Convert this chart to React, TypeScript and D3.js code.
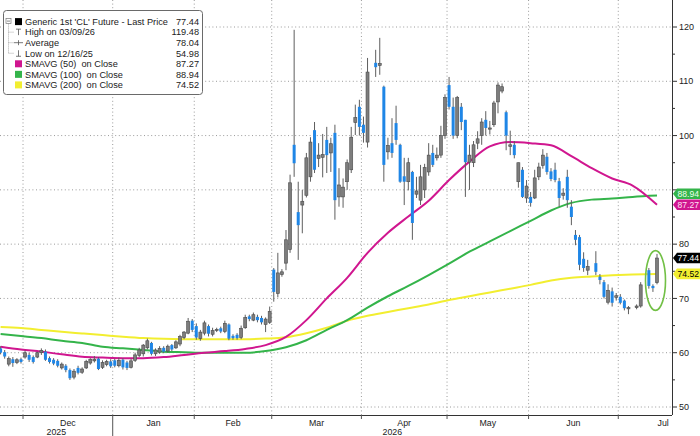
import * as d3 from "d3";

// open, high, low, close (null = no bar drawn)
type Candle = [number, number, number, number] | null;

const nov: Candle[] = [
  [60.8, 61.2, 59.7, 60.0], [60.1, 60.5, 58.9, 59.3], [57.9, 59.3, 57.5, 58.9],
  [58.8, 59.2, 57.4, 58.1], [58.2, 59.0, 57.9, 58.7], [58.8, 59.1, 58.0, 58.3],
];
const dec: Candle[] = [
  [59.2, 60.4, 58.9, 60.0], [59.6, 60.0, 58.3, 58.7], [59.2, 59.5, 58.0, 58.3],
  [59.2, 60.2, 59.0, 60.0], [60.0, 60.8, 59.6, 60.4], [60.2, 60.6, 58.5, 58.7],
  [59.0, 59.3, 58.0, 58.3], [58.7, 59.0, 57.7, 58.0], [58.5, 58.8, 57.3, 57.6],
  [57.2, 58.2, 56.9, 57.9], [57.6, 57.9, 56.4, 56.8], [56.8, 57.1, 54.98, 55.3],
  [55.5, 57.0, 55.1, 56.6], [57.2, 57.6, 56.0, 56.3], [56.4, 57.3, 56.1, 57.0],
  [57.2, 58.7, 57.0, 58.4], [58.1, 59.0, 57.8, 58.8], [58.5, 59.4, 58.2, 58.8],
  [58.9, 59.2, 56.8, 57.0], [57.3, 58.6, 57.0, 58.2], [57.8, 58.7, 57.5, 58.4],
  [58.4, 58.8, 57.2, 57.5],
];
const jan: Candle[] = [
  [58.6, 58.9, 57.3, 57.6], [57.6, 59.1, 57.3, 58.6], [58.7, 59.0, 56.9, 57.3],
  [58.2, 58.5, 56.8, 57.2], [57.3, 58.9, 57.1, 58.5], [58.6, 60.0, 58.3, 59.6],
  [59.5, 60.9, 59.2, 60.5], [59.8, 61.6, 59.3, 61.4], [60.9, 62.6, 60.6, 62.2],
  [61.8, 62.0, 59.5, 59.8], [59.8, 60.8, 59.4, 60.5], [60.1, 61.2, 59.8, 60.8],
  [60.9, 61.2, 59.9, 60.2], [60.3, 61.5, 60.0, 61.2], [61.4, 61.6, 60.3, 60.6],
  [60.9, 62.3, 60.7, 62.0], [61.6, 63.3, 61.2, 63.0], [62.8, 64.0, 62.5, 63.8],
  [63.6, 66.4, 63.4, 65.8], [65.9, 66.2, 63.8, 64.2],
];
const feb: Candle[] = [
  [64.9, 65.4, 62.4, 62.8], [62.6, 64.2, 62.2, 63.8], [63.6, 65.9, 63.2, 65.5],
  [64.9, 65.2, 63.0, 63.5], [63.4, 64.6, 63.0, 64.1], [64.2, 64.6, 63.8, 64.3],
  [64.5, 64.8, 63.6, 63.9], [63.9, 65.9, 63.6, 65.4], [65.2, 65.4, 62.3, 62.6],
  [63.1, 63.4, 62.4, 62.7], [63.3, 63.6, 62.4, 62.7], [62.8, 65.0, 62.5, 64.5],
  [64.6, 67.0, 64.4, 66.5], [66.7, 67.0, 65.8, 66.2], [66.0, 67.4, 65.8, 67.0],
  [66.6, 67.0, 65.6, 66.0], [66.4, 66.8, 65.2, 65.6], [65.2, 66.5, 63.8, 66.2],
  [65.6, 68.5, 65.3, 67.6],
];
const mar: Candle[] = [
  [75.3, 75.6, 69.4, 71.2], [70.9, 78.4, 70.2, 74.7], [74.4, 75.4, 74.0, 74.9],
  [76.5, 82.6, 75.2, 80.8], [79.0, 92.8, 78.4, 91.3], [98.3, 119.48, 92.4, 94.9],
  [85.9, 91.5, 77.1, 83.5], [87.2, 90.0, 82.0, 87.9], [89.0, 96.8, 88.6, 95.9],
  [92.4, 99.7, 91.5, 98.8], [101.0, 102.5, 93.1, 93.7], [95.8, 98.6, 94.2, 96.4],
  [96.0, 100.3, 92.3, 96.5], [99.2, 101.6, 93.1, 96.4], [96.8, 99.6, 93.3, 98.5],
  [100.5, 102.0, 84.5, 88.1], [88.7, 94.0, 86.9, 90.9], [88.7, 92.1, 86.7, 90.5],
  [91.5, 95.6, 90.0, 95.0], [93.7, 101.6, 93.1, 99.7], [102.4, 105.7, 100.1, 103.3],
  [105.3, 106.6, 100.0, 101.6],
];
const apr: Candle[] = [
  [102.0, 103.5, 98.7, 100.5], [98.8, 114.3, 97.8, 111.7], null,
  [113.4, 115.8, 110.8, 112.6], [112.9, 118.0, 111.2, 113.3], [109.0, 109.2, 91.5, 94.6],
  [97.0, 99.6, 95.6, 98.2], [98.6, 103.2, 95.9, 96.8], [102.3, 105.5, 98.3, 99.2],
  [98.3, 98.5, 91.3, 91.5], [92.5, 95.9, 87.2, 91.5], [91.5, 95.9, 89.9, 95.0],
  [93.3, 93.5, 80.8, 83.9], [89.2, 92.4, 88.5, 89.8], [88.1, 94.6, 87.2, 92.4],
  [90.0, 94.8, 88.5, 94.1], [93.3, 98.6, 92.6, 96.4], [96.8, 98.3, 94.2, 94.6],
  [95.9, 97.8, 95.4, 96.4], [96.4, 101.8, 95.9, 100.0], [100.0, 107.6, 99.4, 107.0],
];
const may: Candle[] = [
  [109.3, 110.8, 104.8, 105.3], [105.3, 107.0, 99.4, 100.0], [100.0, 107.3, 99.5, 107.0],
  [105.3, 106.0, 101.0, 102.5], [102.9, 102.9, 88.7, 95.1], [95.1, 98.3, 90.0, 96.4],
  [95.0, 99.0, 94.2, 98.3], [98.6, 100.8, 97.5, 99.4], [100.0, 103.2, 98.3, 102.5],
  [102.9, 104.5, 100.0, 101.4], [101.2, 102.7, 100.2, 101.4], [102.0, 106.4, 101.6, 106.0],
  [106.2, 109.8, 104.1, 109.3], [108.2, 109.6, 107.8, 109.0], [104.3, 104.6, 97.3, 100.0],
  [98.0, 100.9, 96.4, 98.3], [98.3, 99.0, 95.8, 96.4], [91.5, 95.0, 90.4, 95.0],
  [93.7, 94.2, 88.5, 88.7], [88.5, 91.8, 87.6, 90.7],
];
const jun: Candle[] = [
  [88.7, 89.6, 86.9, 87.6], [88.5, 93.7, 88.3, 92.2], [92.4, 95.0, 91.8, 94.2],
  [94.5, 97.5, 93.9, 96.4], [96.1, 96.8, 92.8, 93.3], [93.4, 94.0, 91.6, 92.0],
  [93.7, 95.0, 91.4, 91.8], [91.6, 92.2, 86.9, 88.5], [89.0, 90.3, 88.2, 89.4],
  [92.4, 93.7, 86.7, 88.1], [86.9, 88.1, 83.5, 85.0], [81.7, 82.6, 79.8, 80.8],
  [81.3, 81.7, 75.2, 76.2], [77.3, 78.5, 74.9, 75.6], [75.2, 77.1, 74.3, 75.9],
  null, [76.5, 78.7, 74.3, 74.9], [74.0, 74.5, 72.6, 73.4],
  [73.0, 73.4, 70.0, 70.3], [69.3, 72.6, 68.9, 71.5], [71.3, 72.0, 68.5, 69.2],
  [70.2, 71.0, 69.6, 70.5],
];
const jul: Candle[] = [
  [70.3, 70.8, 68.9, 69.2], [69.6, 69.8, 67.8, 68.2], [68.1, 68.6, 67.1, 68.3],
  null, [68.3, 68.9, 68.0, 68.6], [68.6, 73.0, 68.3, 72.5],
  null, [75.2, 75.6, 71.8, 72.3], [72.3, 72.6, 71.2, 71.9],
  [72.9, 78.2, 72.6, 77.44],
];

const months = ["Dec", "Jan", "Feb", "Mar", "Apr", "May", "Jun", "Jul"];
const monthBars = [dec, jan, feb, mar, apr, may, jun, jul];
const julTradingDays = 22;
const years = ["2025", "2026"];

// moving averages at every 5th bar
const smaIdx = [0, 5, 10, 15, 20, 25, 30, 35, 40, 45, 50, 55, 60, 65, 70, 75, 80, 85, 90, 95, 100, 105, 110, 115, 120, 125, 130, 135, 140, 145, 150, 155, 161];
const sma50 = [61.1, 60.6, 60.2, 59.7, 59.25, 59.1, 59.0, 59.0, 59.2, 59.6, 60.0, 60.3, 60.7, 61.4, 62.9, 66.0, 70.0, 73.8, 78.4, 82.1, 85.1, 88.0, 91.8, 95.2, 98.0, 98.8, 98.6, 98.2, 96.2, 94.0, 92.1, 90.8, 87.27];
const sma100 = [63.45, 63.1, 62.7, 62.2, 61.8, 61.1, 60.8, 60.5, 60.2, 60.1, 60.0, 60.0, 60.0, 60.3, 61.0, 62.3, 64.2, 66.0, 68.3, 70.4, 72.3, 74.3, 76.4, 78.6, 80.5, 82.4, 84.3, 86.2, 87.6, 88.2, 88.4, 88.7, 88.94];
const sma200 = [64.75, 64.55, 64.2, 63.85, 63.55, 63.25, 62.95, 62.7, 62.55, 62.5, 62.5, 62.5, 62.5, 62.6, 62.85, 63.6, 64.6, 65.9, 66.8, 67.5, 68.2, 68.9, 69.7, 70.4, 71.1, 71.8, 72.5, 73.3, 73.8, 74.05, 74.25, 74.4, 74.52];

const yTicks = [50, 60, 70, 80, 90, 100, 110, 120];
const yMinor = [55, 65, 75, 85, 95, 105, 115];

const legendLabels = [
  "Generic 1st 'CL' Future - Last Price",
  "High on 03/09/26",
  "Average",
  "Low on 12/16/25",
  "SMAVG (50)  on Close",
  "SMAVG (100)  on Close",
  "SMAVG (200)  on Close",
];
const legendValues = [77.44, 119.48, 78.04, 54.98, 87.27, 88.94, 74.52];

const MAGENTA = "#d0168f";
const GREEN = "#34b44a";
const YELLOW = "#f2ee30";
const BLUE = "#1f86e6";
const FONT = "'Liberation Sans', Arial, sans-serif";

const App = () => {
  const width = 700;
  const height = 436;
  const plotRight = 672;
  const plotBottom = 415;

  const candles: Candle[] = [nov, ...monthBars].flat();
  const x = d3.scaleLinear().domain([0, candles.length - 1]).range([0.6, 657]);
  const y = d3.scaleLinear().domain([50, 120]).range([407, 27]);

  // month boundaries
  const starts: number[] = [];
  let acc = nov.length;
  monthBars.forEach((m) => {
    starts.push(acc);
    acc += m.length;
  });
  const tickX = starts.map((s) => x(s - 0.5));
  const labelX = starts.map((s, i) => {
    const next = i < starts.length - 1 ? starts[i + 1] : s + julTradingDays;
    return x((s + next) / 2 - 0.5);
  });
  const yearSplit = tickX[1];

  const smaLine = (vals: number[]) =>
    d3
      .line<number>()
      .x((_, i) => x(smaIdx[i]))
      .y((v) => y(v))
      .curve(d3.curveMonotoneX)(vals);

  // price tags on the right axis, nudged apart when they overlap
  const tags = [
    { v: legendValues[5], bg: GREEN, fg: "#eaffea" },
    { v: legendValues[4], bg: MAGENTA, fg: "#ffe0f4" },
    { v: legendValues[0], bg: "#000000", fg: "#ffffff" },
    { v: legendValues[6], bg: YELLOW, fg: "#000000" },
  ]
    .map((t) => ({ ...t, ty: y(t.v) }))
    .sort((a, b) => a.ty - b.ty);
  for (let i = tags.length - 2; i >= 0; i--) {
    const gap = tags[i + 1].ty - tags[i].ty;
    if (gap < 11) tags[i].ty -= 11 - gap;
  }
  // axis labels hidden under a tag
  const shownTicks = yTicks.filter((t) => tags.every((g) => Math.abs(g.ty - y(t)) > 9));

  const last = candles.length - 1;
  const bodyW = 3;

  const rowY = (i: number) => 21.6 + i * 10.55;

  return (
    <div style={{ position: "absolute", left: 0, top: 0 }}>
      <svg width={width} height={height} style={{ display: "block", background: "#fff" }}>
        <defs>
          <clipPath id="plot">
            <rect x={0} y={0} width={plotRight} height={plotBottom} />
          </clipPath>
        </defs>

        {/* grid */}
        {yTicks.map((t) => (
          <line key={"h" + t} x1={0} x2={plotRight} y1={y(t)} y2={y(t)}
            stroke="#9a9a9a" strokeWidth={1} strokeDasharray="1 2.6" />
        ))}
        {tickX.map((tx, i) => (
          <line key={"v" + i} x1={tx} x2={tx} y1={0} y2={plotBottom}
            stroke="#9a9a9a" strokeWidth={1} strokeDasharray="1 2.6" />
        ))}

        <g clipPath="url(#plot)">
          {/* moving averages */}
          <path d={smaLine(sma200) ?? ""} fill="none" stroke={YELLOW} strokeWidth={2} />
          <path d={smaLine(sma100) ?? ""} fill="none" stroke={GREEN} strokeWidth={2} />
          <path d={smaLine(sma50) ?? ""} fill="none" stroke={MAGENTA} strokeWidth={2} />

          {/* candles */}
          {candles.map((c, i) => {
            if (!c) return null;
            const [o, h, l, cl] = c;
            const cx = x(i);
            const down = cl < o;
            const top = y(Math.max(o, cl));
            const bh = Math.max(1.2, y(Math.min(o, cl)) - top);
            return (
              <g key={i}>
                <line x1={cx} x2={cx} y1={y(h)} y2={y(l)} stroke="#5e5e5e" strokeWidth={1} />
                <rect x={cx - bodyW / 2} y={top} width={bodyW} height={bh}
                  fill={down ? BLUE : "#7d7d7d"}
                  stroke={down ? "none" : "#4a4a4a"} strokeWidth={0.6} />
              </g>
            );
          })}

          {/* highlight around the latest bars */}
          <ellipse cx={x(last) - 1.5} cy={y(73.3)} rx={10} ry={(y(67.8) - y(78.8)) / 2}
            fill="none" stroke="#72c046" strokeWidth={1.6} />
        </g>

        {/* axes */}
        <line x1={plotRight + 0.5} x2={plotRight + 0.5} y1={0} y2={plotBottom} stroke="#333" strokeWidth={1} />
        <line x1={0} x2={plotRight} y1={plotBottom + 0.5} y2={plotBottom + 0.5} stroke="#333" strokeWidth={1} />
        {yMinor.map((t) => (
          <line key={"m" + t} x1={plotRight} x2={plotRight + 3} y1={y(t)} y2={y(t)} stroke="#333" />
        ))}
        {yTicks.map((t) => (
          <line key={"t" + t} x1={plotRight} x2={plotRight + 5} y1={y(t)} y2={y(t)} stroke="#333" />
        ))}
        {shownTicks.map((t) => (
          <text key={"l" + t} x={plotRight + 7} y={y(t) + 3.2} fontSize={9} fontFamily={FONT} fill="#222">{t}</text>
        ))}

        {tickX.map((tx, i) => (
          <line key={"mt" + i} x1={tx} x2={tx} y1={plotBottom}
            y2={tx === yearSplit ? height : plotBottom + 4} stroke="#555" strokeWidth={1} />
        ))}
        {months.map((m, i) => (
          <text key={m} x={labelX[i]} y={plotBottom + 10.5} textAnchor="middle"
            fontSize={8.8} fontFamily={FONT} fill="#222">{m}</text>
        ))}
        <text x={yearSplit / 2} y={plotBottom + 19.5} textAnchor="middle" fontSize={8.8} fontFamily={FONT} fill="#222">{years[0]}</text>
        <text x={(yearSplit + plotRight) / 2} y={plotBottom + 19.5} textAnchor="middle" fontSize={8.8} fontFamily={FONT} fill="#222">{years[1]}</text>

        {/* value tags */}
        {tags.map((t) => (
          <g key={t.v}>
            <path
              d={`M${plotRight + 1},${t.ty} L${plotRight + 5},${t.ty - 5.3} L${width},${t.ty - 5.3} L${width},${t.ty + 5.3} L${plotRight + 5},${t.ty + 5.3} Z`}
              fill={t.bg} />
            <text x={plotRight + 5.5} y={t.ty + 3.2} fontSize={8.6} fontFamily={FONT} fill={t.fg}>
              {t.v.toFixed(2)}
            </text>
          </g>
        ))}

        {/* legend */}
        <rect x={3.5} y={10.5} width={199} height={84} rx={3} fill="#fff" stroke="#6a6a6a" strokeWidth={1} />
        <rect x={6} y={rowY(0) - 3} width={5} height={5} fill="#fff" stroke="#777" strokeWidth={0.7} />
        <line x1={7} x2={10} y1={rowY(0) - 0.5} y2={rowY(0) - 0.5} stroke="#555" strokeWidth={0.7} />
        <line x1={8.5} x2={8.5} y1={rowY(0) + 2} y2={rowY(3)} stroke="#888" strokeWidth={0.7} strokeDasharray="1 1" />
        {[1, 2, 3].map((r) => (
          <line key={"br" + r} x1={8.5} x2={13.5} y1={rowY(r)} y2={rowY(r)} stroke="#888" strokeWidth={0.7} strokeDasharray="1 1" />
        ))}
        <rect x={15} y={rowY(0) - 3.5} width={7} height={7} fill="#000" />
        {/* high / average / low markers */}
        <g stroke="#555" strokeWidth={0.8}>
          <line x1={16} x2={21} y1={rowY(1) - 3} y2={rowY(1) - 3} />
          <line x1={18.5} x2={18.5} y1={rowY(1) - 3} y2={rowY(1) + 3} />
          <line x1={14} x2={23} y1={rowY(2)} y2={rowY(2)} />
          <line x1={18.5} x2={18.5} y1={rowY(2) - 2.5} y2={rowY(2) + 2.5} />
          <line x1={16} x2={21} y1={rowY(3) + 3} y2={rowY(3) + 3} />
          <line x1={18.5} x2={18.5} y1={rowY(3) - 3} y2={rowY(3) + 3} />
        </g>
        {[MAGENTA, GREEN, YELLOW].map((c, i) => (
          <rect key={c} x={15} y={rowY(4 + i) - 3.5} width={7} height={7} fill={c} />
        ))}
        {legendLabels.map((lab, i) => (
          <g key={lab}>
            <text x={25} y={rowY(i) + 3.3} fontSize={9.2} fontFamily={FONT} fill="#222"
              style={{ whiteSpace: "pre" }}>{lab}</text>
            <text x={199} y={rowY(i) + 3.3} textAnchor="end" fontSize={9.2} fontFamily={FONT} fill="#222">
              {legendValues[i].toFixed(2)}
            </text>
          </g>
        ))}
      </svg>
    </div>
  );
};

export default App;
